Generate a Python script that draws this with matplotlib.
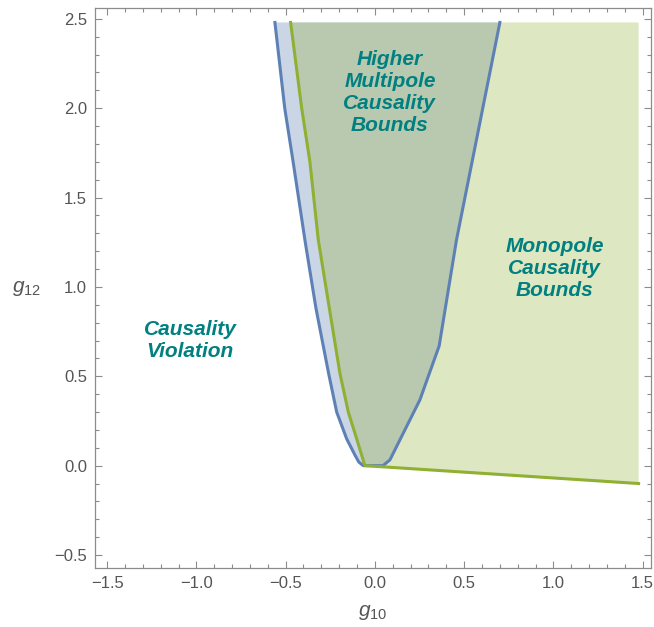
import numpy as np
import matplotlib
matplotlib.use('Agg')
import matplotlib.pyplot as plt
from matplotlib.ticker import MultipleLocator, FuncFormatter

plt.rcParams['font.family'] = ['Liberation Sans', 'DejaVu Sans']
plt.rcParams['mathtext.fontset'] = 'custom'
plt.rcParams['mathtext.rm'] = 'Liberation Sans'
plt.rcParams['mathtext.it'] = 'Liberation Sans:italic'

# ── Data ─────────────────────────────────────────────────────────────────────

# higher multipole bound: left branch (top -> bottom), then right branch (bottom -> top)
multi_left_x  = [-0.56, -0.505, -0.458, -0.39, -0.33, -0.26, -0.214, -0.158, -0.112, -0.09, -0.065]
multi_left_y  = [2.48, 2.0, 1.7, 1.25, 0.88, 0.52, 0.30, 0.15, 0.06, 0.02, 0.0]
multi_right_x = [0.045, 0.084, 0.14, 0.252, 0.36, 0.457, 0.70]
multi_right_y = [0.0, 0.032, 0.144, 0.368, 0.67, 1.263, 2.48]

# monopole bound: left branch (top -> vertex), then lower edge
mono_left_x  = [-0.472, -0.41, -0.364, -0.317, -0.255, -0.196, -0.149, -0.102, -0.056]
mono_left_y  = [2.48, 2.0, 1.7, 1.263, 0.88, 0.517, 0.30, 0.15, 0.0]
mono_low_x   = [-0.056, 1.477]
mono_low_y   = [0.0, -0.10]

x_ticks = [-1.5, -1.0, -0.5, 0.0, 0.5, 1.0, 1.5]
y_ticks = [-0.5, 0.0, 0.5, 1.0, 1.5, 2.0, 2.5]

BLUE  = '#5e81b5'
GREEN = '#8fb032'
TEAL  = '#008080'
GREY  = '#555555'

# ── Figure ───────────────────────────────────────────────────────────────────

fig = plt.figure(figsize=(6.54, 6.27), dpi=100)
ax = fig.add_axes([0.146, 0.094, 0.849, 0.893])

top = multi_left_y[0]
right = mono_low_x[-1]

# regions (fills)
mx = multi_left_x + multi_right_x
my = multi_left_y + multi_right_y
ax.fill(mx, my, color=BLUE, alpha=0.33, lw=0, zorder=1)

gx = mono_left_x + mono_low_x[1:] + [right]
gy = mono_left_y + mono_low_y[1:] + [top]
ax.fill(gx, gy, color=GREEN, alpha=0.30, lw=0, zorder=2)

# boundaries
ax.plot(mx, my, color=BLUE, lw=2.2, solid_joinstyle='round', zorder=3)
ax.plot(mono_left_x + mono_low_x[1:], mono_left_y + mono_low_y[1:],
        color=GREEN, lw=2.2, solid_joinstyle='round', zorder=4)

# labels inside the plot
lab = dict(color=TEAL, fontsize=15, fontweight='bold', fontstyle='italic',
           ha='center', va='center', linespacing=1.2, zorder=5)
ax.text(0.084, 2.09, 'Higher\nMultipole\nCausality\nBounds', **lab)
ax.text(1.007, 1.105, 'Monopole\nCausality\nBounds', **lab)
ax.text(-1.035, 0.70, 'Causality\nViolation', **lab)

# ── Axes styling (Mathematica-like frame) ────────────────────────────────────

ax.set_xlim(-1.565, 1.545)
ax.set_ylim(-0.573, 2.56)
ax.set_xticks(x_ticks)
ax.set_yticks(y_ticks)
ax.xaxis.set_minor_locator(MultipleLocator(0.1))
ax.yaxis.set_minor_locator(MultipleLocator(0.1))
fmt = FuncFormatter(lambda v, p: f'{v:.1f}'.replace('-', '\u2212'))
ax.xaxis.set_major_formatter(fmt)
ax.yaxis.set_major_formatter(fmt)

for s in ax.spines.values():
    s.set_color('#8c8c8c')
    s.set_linewidth(0.9)
ax.tick_params(which='both', direction='in', top=True, right=True,
               color='#8c8c8c', width=0.8, labelcolor=GREY, labelsize=12, pad=6)
ax.tick_params(which='major', length=5)
ax.tick_params(which='minor', length=2.8)

ax.set_xlabel('$g_{10}$', color=GREY, fontsize=15, labelpad=8)
ax.set_ylabel('$g_{12}$', color=GREY, fontsize=15, rotation=0, labelpad=20, va='center')

plt.savefig('out.png', dpi=100)
plt.close()
